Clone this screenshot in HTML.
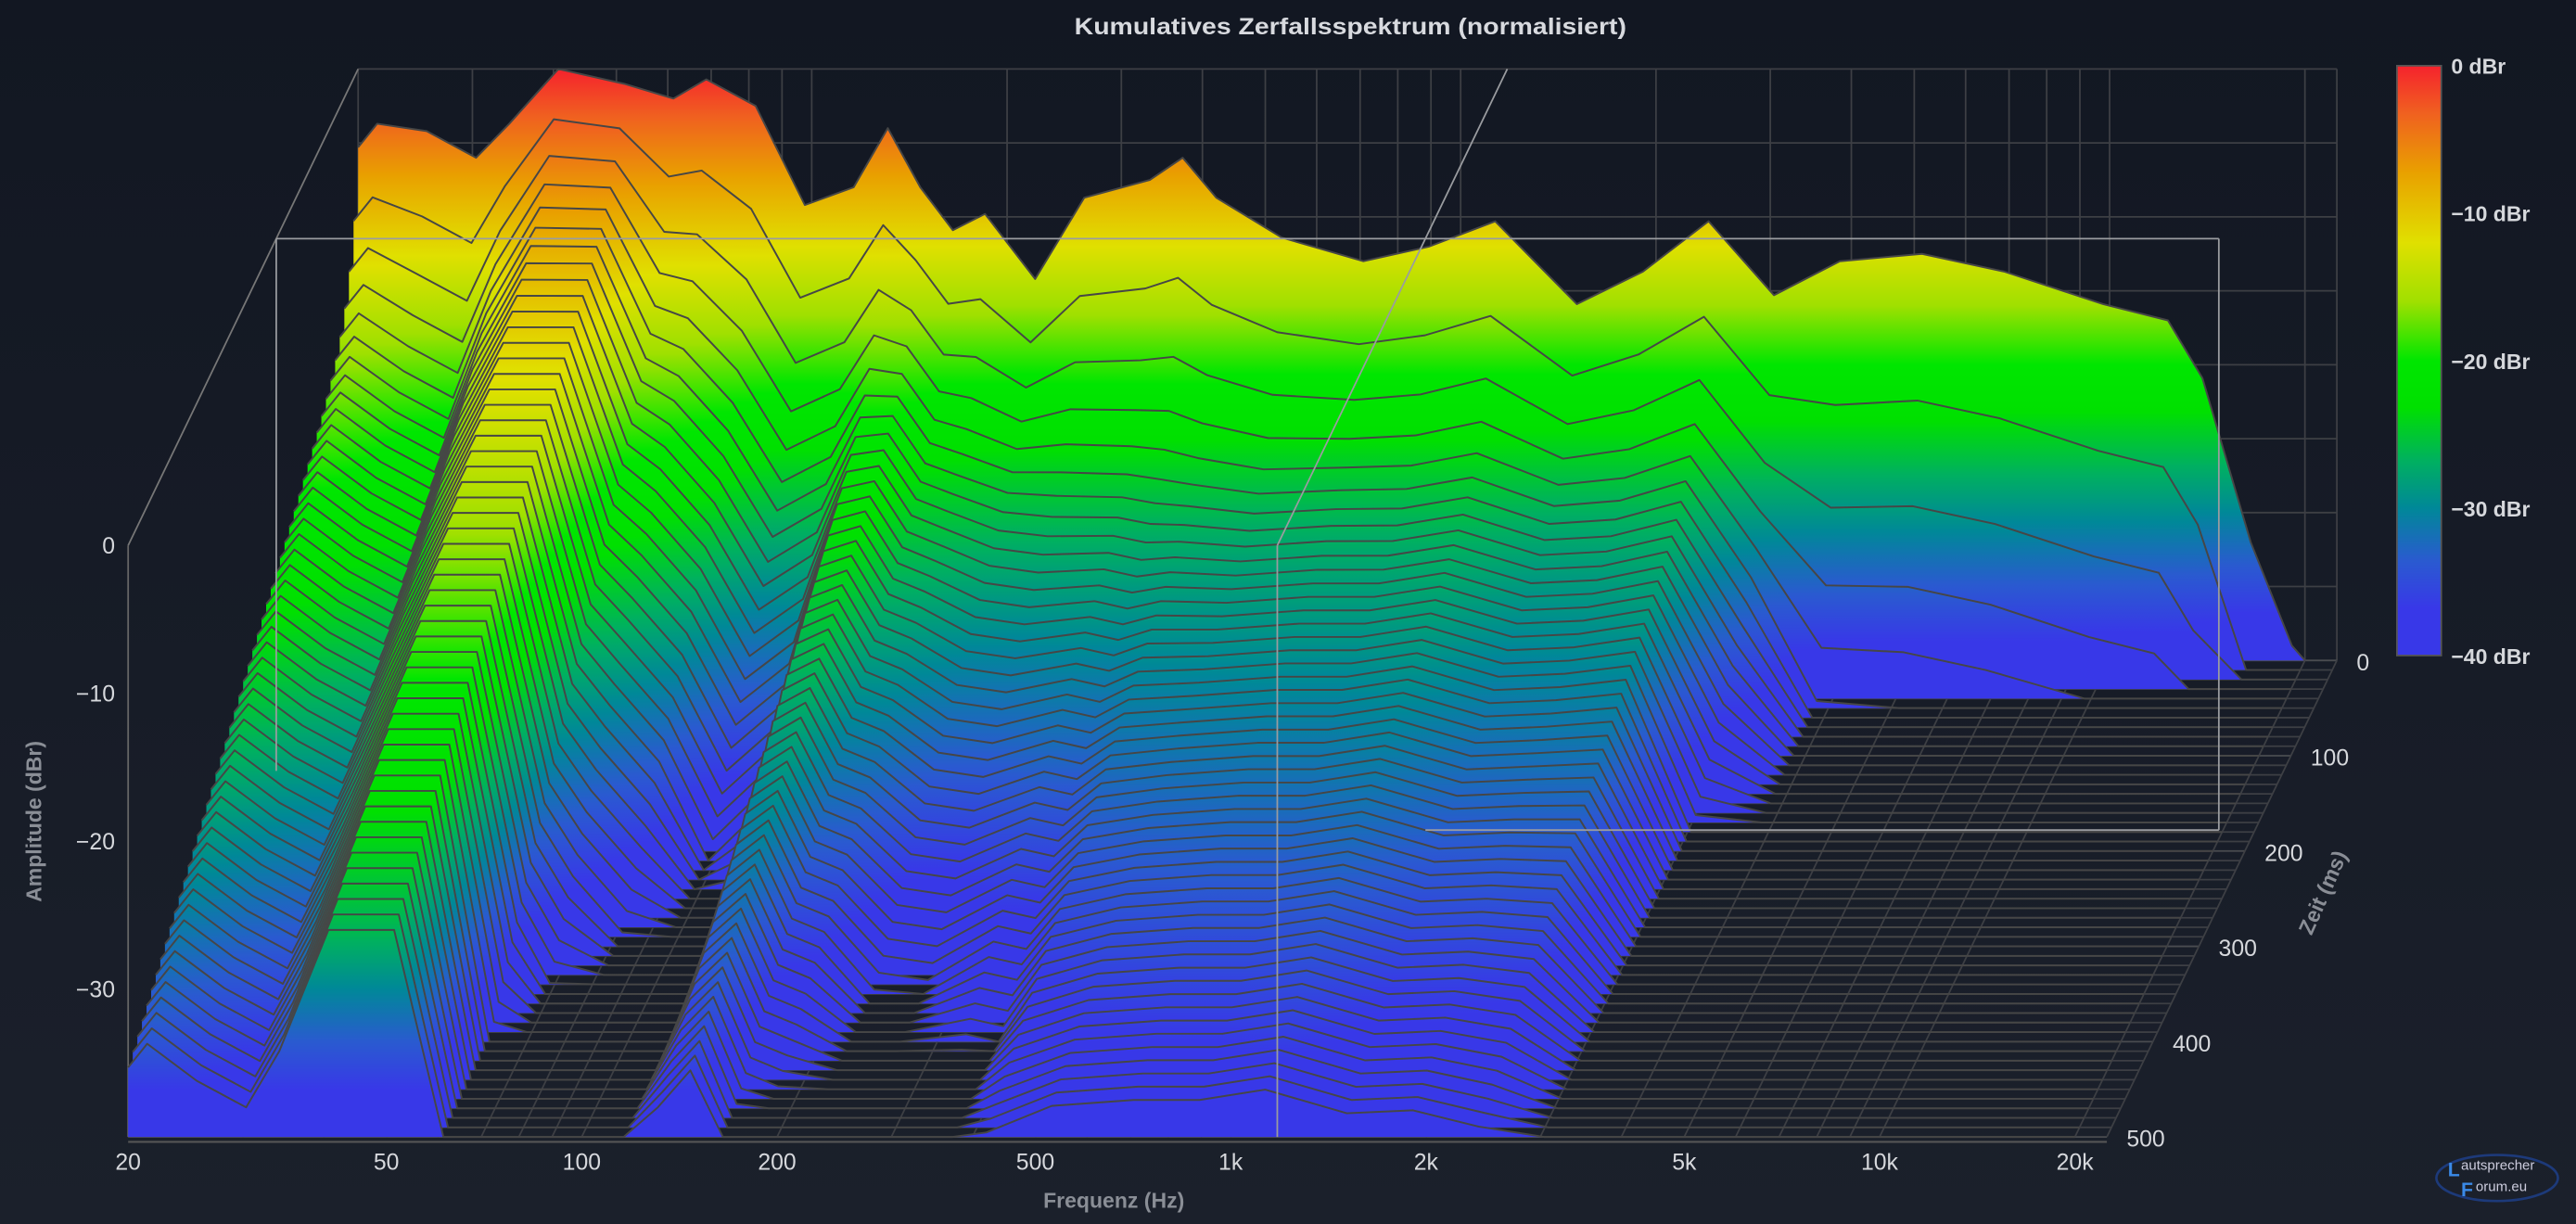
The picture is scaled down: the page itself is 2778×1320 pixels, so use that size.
<!DOCTYPE html>
<html><head><meta charset="utf-8"><title>Kumulatives Zerfallsspektrum</title>
<style>
html,body{margin:0;padding:0;background:#151a24;overflow:hidden}
svg{display:block}
text{font-family:"Liberation Sans","DejaVu Sans",sans-serif}
</style></head>
<body>
<svg id="chart" width="2778" height="1320" viewBox="0 0 1568 745" preserveAspectRatio="none" xmlns="http://www.w3.org/2000/svg">
<defs>
<linearGradient id="bgGrad" x1="0" y1="0" x2="0" y2="1">
<stop offset="0" stop-color="#121722"/><stop offset="1" stop-color="#1b202b"/>
</linearGradient>
<linearGradient id="dbGrad" gradientUnits="userSpaceOnUse" x1="0" y1="42" x2="0" y2="402">
<stop offset="0" stop-color="#f5222d"/>
<stop offset="0.08" stop-color="#f06020"/>
<stop offset="0.18" stop-color="#e9a000"/>
<stop offset="0.30" stop-color="#e0e000"/>
<stop offset="0.40" stop-color="#a0e000"/>
<stop offset="0.50" stop-color="#00e600"/>
<stop offset="0.58" stop-color="#00e000"/>
<stop offset="0.67" stop-color="#00b060"/>
<stop offset="0.75" stop-color="#008898"/>
<stop offset="0.84" stop-color="#2a5ad0"/>
<stop offset="0.92" stop-color="#3838e8"/>
<stop offset="1" stop-color="#3838e8"/>
</linearGradient>
<linearGradient id="barGrad" x1="0" y1="0" x2="0" y2="1">
<stop offset="0" stop-color="#f5222d"/>
<stop offset="0.08" stop-color="#f06020"/>
<stop offset="0.18" stop-color="#e9a000"/>
<stop offset="0.30" stop-color="#e0e000"/>
<stop offset="0.40" stop-color="#a0e000"/>
<stop offset="0.50" stop-color="#00e600"/>
<stop offset="0.58" stop-color="#00e000"/>
<stop offset="0.67" stop-color="#00b060"/>
<stop offset="0.75" stop-color="#008898"/>
<stop offset="0.84" stop-color="#2a5ad0"/>
<stop offset="0.92" stop-color="#3838e8"/>
<stop offset="1" stop-color="#3838e8"/>
</linearGradient>
</defs>
<rect x="0" y="0" width="1568" height="745" fill="url(#bgGrad)"/>
<g id="grid"></g>
<g id="slices"></g>
<g id="overlay"></g>
<g id="labels"></g>
<text x="822" y="21" text-anchor="middle" font-size="14" font-weight="bold" fill="#d8dadf" textLength="336" lengthAdjust="spacingAndGlyphs">Kumulatives Zerfallsspektrum (normalisiert)</text>
<text x="678" y="735" text-anchor="middle" font-size="13" font-weight="bold" fill="#8a8e96">Frequenz (Hz)</text>
<text transform="translate(25,500) rotate(-90)" text-anchor="middle" font-size="13" font-weight="bold" fill="#8a8e96">Amplitude (dBr)</text>
<text transform="translate(1418,545) rotate(-66)" text-anchor="middle" font-size="13" font-weight="bold" fill="#8a8e96">Zeit (ms)</text>
<g>
<rect x="1459" y="40" width="27" height="359" fill="url(#barGrad)" stroke="#555" stroke-width="1"/>
</g>
<g>
<ellipse cx="1520" cy="717" rx="37" ry="14" fill="none" stroke="#1d3a7a" stroke-width="1.5"/>
<text x="1490" y="716" font-size="12" fill="#3a8ae8" font-weight="bold">L</text>
<text x="1498" y="712" font-size="8.5" fill="#ccd">autsprecher</text>
<text x="1507" y="725" font-size="8.5" fill="#ccd">orum.eu</text>
<text x="1498" y="728" font-size="12" fill="#3a8ae8" font-weight="bold">F</text>
</g>
</svg>
<script>
// ---- data ----
const freqs = [20,21.4,25.5,30.4,34.2,40.7,51.4,61.2,68.8,82,97.6,116,131,147,165,185,221,263,332,373,420,530,708,895,1130,1510,1910,2410,3040,3840,5140,6880,9770,12300,13900,16500,19100,20000];
const baseLevel = [-5.3,-3.7,-4.2,-6,-3.7,0,-1,-2,-0.7,-2.5,-9.2,-8,-4,-8,-10.9,-9.8,-14.2,-8.7,-7.5,-6,-8.7,-11.4,-13,-12,-10.3,-15.9,-13.7,-10.3,-15.3,-13,-12.5,-13.7,-15.9,-17,-20.9,-32,-39,-40];
const initialDrop = [10,10,12,12,8,6,5,10,12,14,12,12,14,10,10,12,8,14,16,18,16,14,12,13,14,10,12,14,14,18,18,18,18,18,18,18,18,18];
const tailRate = [4,4,4,4,4.5,4,4,7,8,8,9,8,4,3.5,4,4,5,5,4,4,3,2.5,2.5,2.5,2.5,2.5,2.5,3,6,20,22,22,22,22,22,22,22,22];
const times = [];
for (let t = 0; t <= 500; t += 10) times.push(t);
const freqTicks = [20,50,100,200,500,1000,2000,5000,10000,20000];
const freqTickLabels = ["20","50","100","200","500","1k","2k","5k","10k","20k"];
const gridFreqs = [20,30,40,50,60,70,80,90,100,200,300,400,500,600,700,800,900,1000,2000,3000,4000,5000,6000,7000,8000,9000,10000,20000];
const ampTicks = [0,-10,-20,-30];
const timeTicks = [0,100,200,300,400,500];
const barTicks = [0,-10,-20,-30,-40];

// ---- axes ----
const FMAX = 22400;
function xF(f){ return 78 + 395*Math.log10(f/20); }
function shiftX(t){ return 140*(1 - t/500); }
function shiftY(t){ return 290*t/500; }
function yDb(db){ return 42 - 9*db; }
function X(f,t){ return xF(f) + shiftX(t); }
function Y(db,t){ return yDb(db) + shiftY(t); }
function level(i,t){ return baseLevel[i] - initialDrop[i]*(1-Math.exp(-t/20)) - tailRate[i]*t/100; }

const NS = "http://www.w3.org/2000/svg";
function mk(tag, attrs, parent){
  const e = document.createElementNS(NS, tag);
  for (const k in attrs) e.setAttribute(k, attrs[k]);
  parent.appendChild(e); return e;
}
const grid = document.getElementById('grid');
const slices = document.getElementById('slices');
const overlay = document.getElementById('overlay');
const labels = document.getElementById('labels');
const gc = "#3d3f44";

// back wall
for (const f of gridFreqs.concat([FMAX])){
  const l = mk('line',{x1:X(f,0),y1:Y(0,0),x2:X(f,0),y2:Y(-40,0),stroke:gc,'stroke-width':1},grid);
  
  
}
for (let db=0; db>=-40; db-=5){
  const l = mk('line',{x1:X(20,0),y1:Y(db,0),x2:X(FMAX,0),y2:Y(db,0),stroke:gc,'stroke-width':1},grid);
  
  
}
// floor
for (const t of times){
  const l = mk('line',{x1:X(20,t),y1:Y(-40,t),x2:X(FMAX,t),y2:Y(-40,t),stroke:(t%100===0)?"#4a4c50":gc,'stroke-width':1},grid);
  
  
}
for (const f of gridFreqs.concat([FMAX])){
  const l = mk('line',{x1:X(f,0),y1:Y(-40,0),x2:X(f,500),y2:Y(-40,500),stroke:gc,'stroke-width':1},grid);
  
  
}
const fl = mk('line',{x1:X(20,500),y1:Y(0,500),x2:X(20,500),y2:Y(-40,500),stroke:"#666",'stroke-width':1},grid);


const fb = mk('line',{x1:X(20,500),y1:Y(-40,500)+3,x2:X(FMAX,500),y2:Y(-40,500)+3,stroke:"#555",'stroke-width':1.2},grid);


const ld = mk('line',{x1:X(20,0),y1:Y(0,0),x2:X(20,500),y2:Y(0,500),stroke:"#777",'stroke-width':1},grid);



// slices back to front
for (let k = 0; k < times.length; k++){
  const t = times[k];
  let pts = [];
  pts.push(xF(freqs[0]) + "," + yDb(-40));
  let line = [];
  for (let i = 0; i < freqs.length; i++){
    const v = Math.max(-40, level(i,t));
    const p = xF(freqs[i]).toFixed(1) + "," + yDb(v).toFixed(1);
    pts.push(p); line.push(p);
  }
  pts.push(xF(freqs[freqs.length-1]) + "," + yDb(-40));
  const g = mk('g',{transform:"translate(" + (shiftX(t)).toFixed(2) + "," + shiftY(t).toFixed(2) + ")"},slices);
  
  
  const poly = mk('polygon',{points:pts.join(" "),fill:"url(#dbGrad)"},g);
  
  
  const pl = mk('polyline',{points:line.join(" "),fill:"none",stroke:"#464646",'stroke-width':1.1,'stroke-linejoin':'round'},g);
  
  
}

// overlay light frame at ~178ms and cursor at 1.18 kHz
const tb = 178, lc = "#9a9ca0";
function ol(x1,y1,x2,y2,name){
  const l = mk('line',{x1:x1,y1:y1,x2:x2,y2:y2,stroke:lc,'stroke-width':1},overlay);
  
  
}
ol(X(20,tb),Y(0,tb),X(FMAX,tb)-22,Y(0,tb),'frame-top');
ol(X(FMAX,tb)-22,Y(0,tb),X(FMAX,tb)-22,Y(-40,tb),'frame-right');
ol(X(20,tb),Y(0,tb),X(20,tb),Y(-36,tb),'frame-left');
ol(X(1180,tb),Y(-40,tb),X(FMAX,tb)-22,Y(-40,tb),'frame-bottom');
ol(X(1180,0),Y(0,0),X(1180,500),Y(0,500),'cursor-diagonal');
ol(X(1180,500),Y(0,500),X(1180,500),Y(-40,500),'cursor-vertical');

// labels
const tc = "#d6d8dc";
freqTicks.forEach((f,i)=>{
  const e = mk('text',{x:xF(f),y:712,'text-anchor':'middle','font-size':14,fill:tc},labels);
  e.textContent = freqTickLabels[i];
  
  
});
ampTicks.forEach(db=>{
  const e = mk('text',{x:X(20,500)-8,y:Y(db,500)+5,'text-anchor':'end','font-size':14,fill:tc},labels);
  e.textContent = String(db).replace('-','\u2212');
  
  
});
timeTicks.forEach(t=>{
  const e = mk('text',{x:X(FMAX,t)+12,y:Y(-40,t)+6,'text-anchor':'start','font-size':14,fill:tc},labels);
  e.textContent = String(t);
  
  
});
barTicks.forEach(db=>{
  const y = 40 + (-db/40)*359;
  const e = mk('text',{x:1492,y:y+5,'text-anchor':'start','font-size':13,'font-weight':'bold',fill:tc},labels);
  e.textContent = (db===0?"0":String(db).replace('-','\u2212')) + " dBr";
  
  
  if (db!==0 && db!==-40){
    const m = mk('line',{x1:1479,y1:y,x2:1486,y2:y,stroke:"#555",'stroke-width':1},labels);
    
    
  }
});
</script>
</body></html>
